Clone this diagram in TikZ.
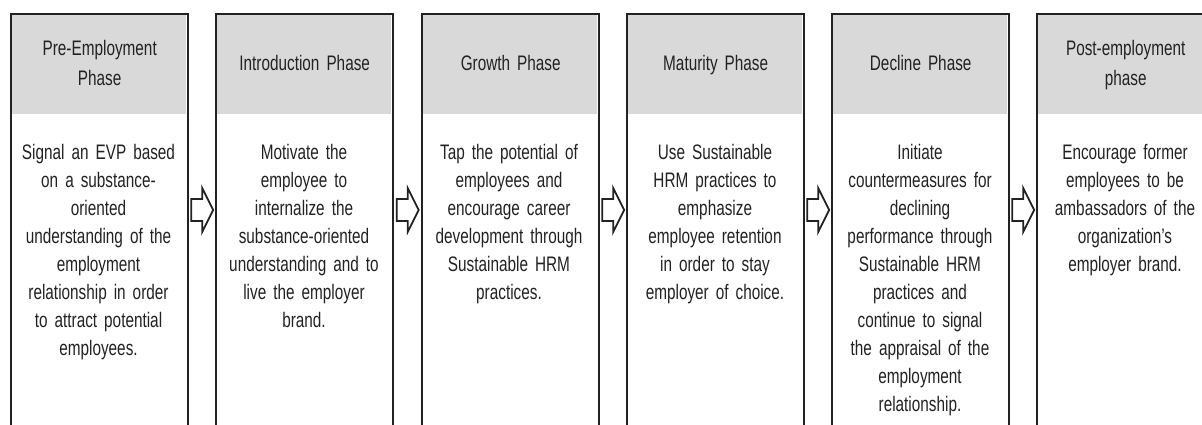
\documentclass[tikz,border=0pt]{standalone}
\usepackage{fontspec}
\setmainfont[FakeStretch=0.73]{Liberation Sans}
\usetikzlibrary{calc}
\definecolor{hdrgray}{HTML}{D9D9D9}
\definecolor{ink}{HTML}{222222}
\begin{document}
\begin{tikzpicture}[x=1pt,y=-1pt,
  phasebox/.style={draw=ink, line width=2.4pt, minimum width=177pt, minimum height=440pt, inner sep=0pt, anchor=north west},
  hdrfill/.style={fill=hdrgray, draw=none, minimum width=175pt, minimum height=100pt, inner sep=0pt, anchor=north west},
  hdrtext/.style={text=ink, font=\fontsize{21}{30}\selectfont, align=center, text width=172pt, inner sep=0pt, execute at begin node=\strut, execute at end node=\strut},
  bodytext/.style={text=ink, font=\fontsize{21}{28}\selectfont, align=center, text width=172pt, inner sep=0pt, anchor=north, execute at begin node=\strut, execute at end node=\strut},
  blockarrow/.style={draw=ink, fill=white, line width=1.8pt, line join=miter}]
\useasboundingbox (0,0) rectangle (1202,424);
\clip (0,0) rectangle (1202,424);
\coordinate (ay) at (0,210);
% header fills
\node[hdrfill] (f1) at (11,14) {};
\node[hdrfill] (f2) at (216,14) {};
\node[hdrfill] (f3) at (422,14) {};
\node[hdrfill] (f4) at (627,14) {};
\node[hdrfill] (f5) at (832,14) {};
\node[hdrfill] (f6) at (1037,14) {};
% box outlines
\node[phasebox] (b1) at (10,13) {};
\node[phasebox] (b2) at (215,13) {};
\node[phasebox] (b3) at (421,13) {};
\node[phasebox] (b4) at (626,13) {};
\node[phasebox] (b5) at (831,13) {};
\node[phasebox] (b6) at (1036,13) {};
% headers
\node[hdrtext] (h1) at ($(f1.center)+(1,0)$) {Pre-Employment\\Phase};
\node[hdrtext] (h2) at ($(f2.center)+(1,0)$) {Introduction Phase};
\node[hdrtext] (h3) at ($(f3.center)+(1,0)$) {Growth Phase};
\node[hdrtext] (h4) at ($(f4.center)+(1,0)$) {Maturity Phase};
\node[hdrtext] (h5) at ($(f5.center)+(1,0)$) {Decline Phase};
\node[hdrtext] (h6) at ($(f6.center)+(1,0)$) {Post-employment\\phase};
% bodies
\node[bodytext] (t1) at (98.5,140) {Signal an EVP based\\on a substance-\\oriented\\understanding of the\\employment\\relationship in order\\to attract potential\\employees.};
\node[bodytext] (t2) at (304,140) {Motivate the\\employee to\\internalize the\\substance-oriented\\understanding and to\\live the employer\\brand.};
\node[bodytext] (t3) at (509,140) {Tap the potential of\\employees and\\encourage career\\development through\\Sustainable HRM\\practices.};
\node[bodytext] (t4) at (715,140) {Use Sustainable\\HRM practices to\\emphasize\\employee retention\\in order to stay\\employer of choice.};
\node[bodytext] (t5) at (920,140) {Initiate\\countermeasures for\\declining\\performance through\\Sustainable HRM\\practices and\\continue to signal\\the appraisal of the\\employment\\relationship.};
\node[bodytext] (t6) at (1125,140) {Encourage former\\employees to be\\ambassadors of the\\organization's\\employer brand.};
% block arrows between boxes
\foreach \a/\b in {b1/b2,b2/b3,b3/b4,b4/b5,b5/b6}{
  \coordinate (m) at ($(\a.north east)!0.5!(\b.north west)$);
  \draw[blockarrow] ($(m |- ay)+(-11,-11)$) -- ++(11,0) -- ++(0,-11) -- ++(11,22) -- ++(-11,22) -- ++(0,-11) -- ++(-11,0) -- cycle;
}
\end{tikzpicture}
\end{document}
